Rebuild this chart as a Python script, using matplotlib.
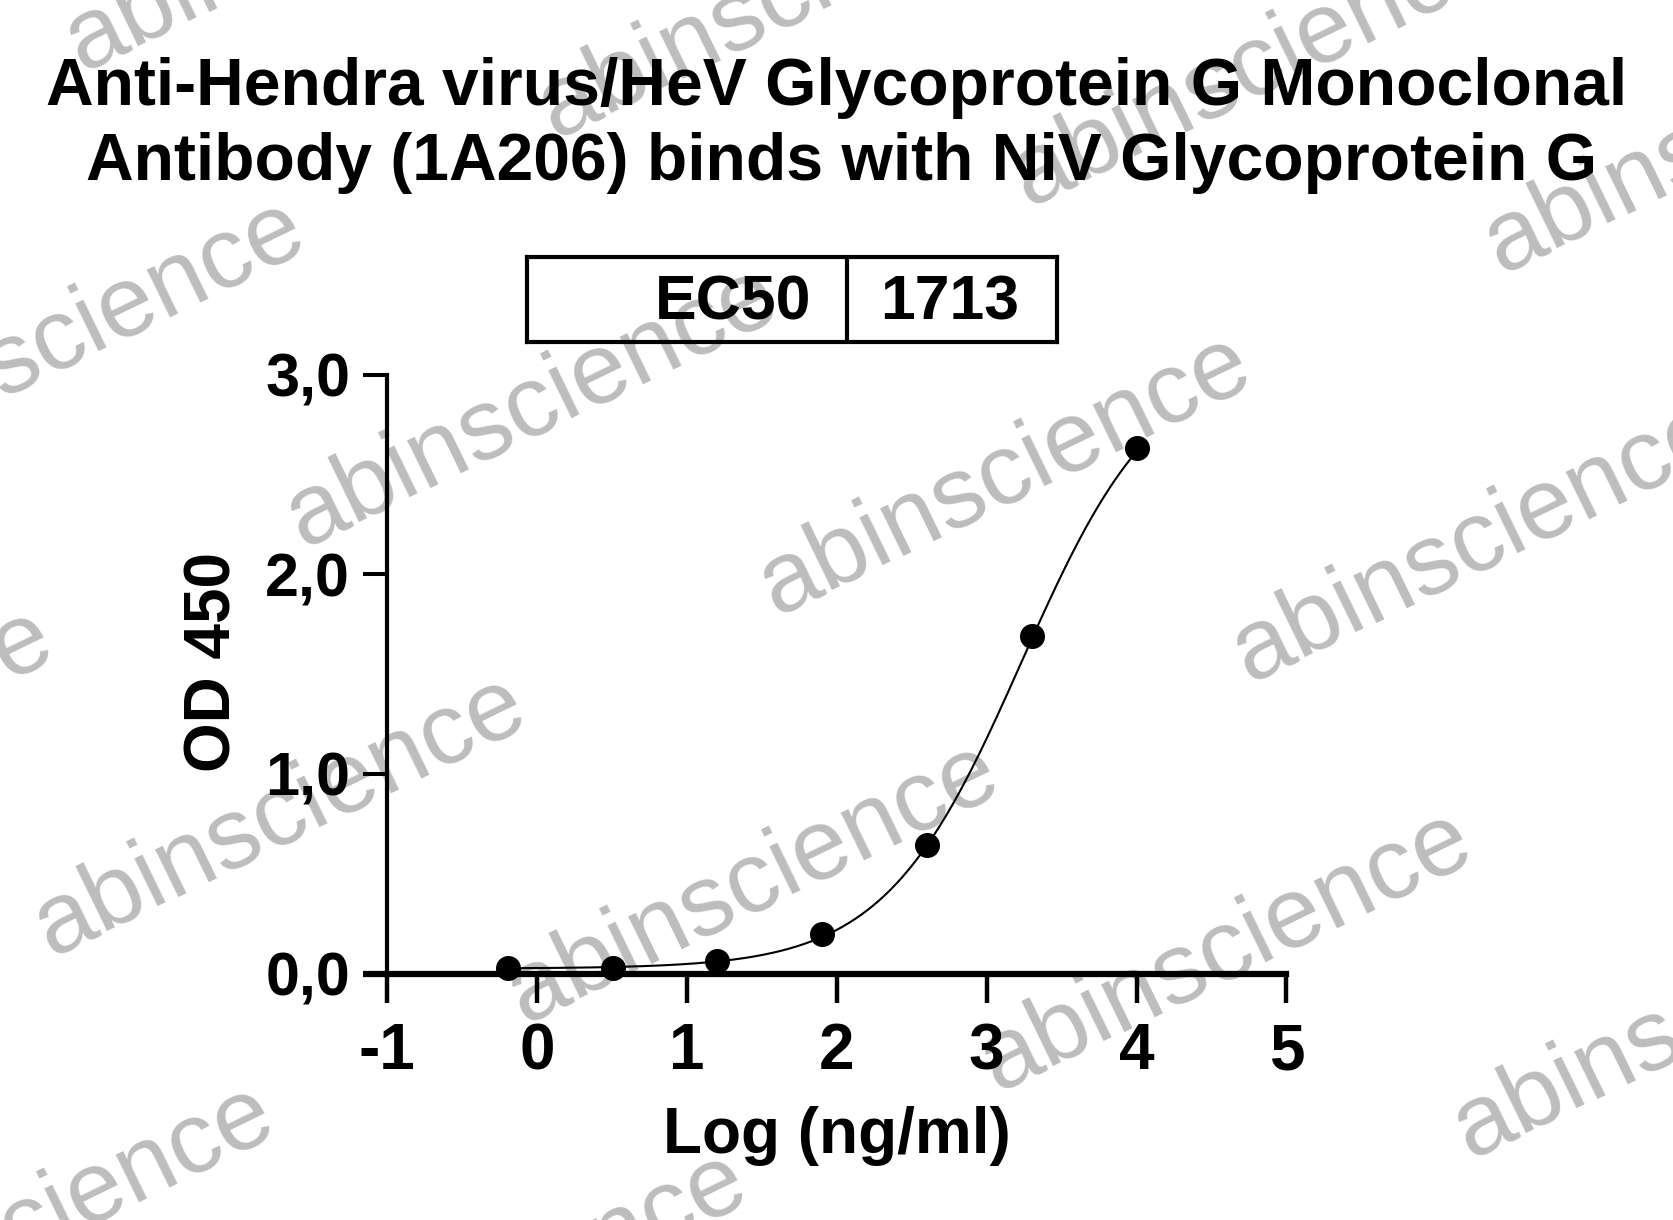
"""ELISA binding curve: Anti-Hendra virus G mAb (1A206) vs NiV Glycoprotein G."""

import numpy as np
import matplotlib

matplotlib.use("Agg")

import matplotlib.pyplot as plt

# measured points, log10 concentration (ng/ml) vs OD 450
log_conc = [-0.19, 0.51, 1.20, 1.90, 2.60, 3.30, 4.00]
od450 = [0.027, 0.027, 0.064, 0.198, 0.642, 1.690, 2.631]

# 4PL fit
ec50 = 1713
fit_bottom = 0.025
fit_top = 3.10
fit_hill = 0.95

x_ticks = [-1, 0, 1, 2, 3, 4, 5]
y_ticks = [0.0, 1.0, 2.0, 3.0]
y_tick_labels = ["0,0", "1,0", "2,0", "3,0"]

title_lines = [
    "Anti-Hendra virus/HeV Glycoprotein G Monoclonal",
    "Antibody (1A206) binds with NiV Glycoprotein G",
]
watermark = "abinscience"

plt.rcParams["font.family"] = ["Liberation Sans", "DejaVu Sans"]
plt.rcParams["font.weight"] = "bold"
plt.rcParams["axes.unicode_minus"] = False

fig = plt.figure(figsize=(16.74, 12.20), dpi=100)
ax = fig.add_axes([0.2312, 0.2020, 0.5373, 0.4909])
ax.patch.set_alpha(0)

xs = np.linspace(log_conc[0], log_conc[-1], 400)
fit = fit_bottom + (fit_top - fit_bottom) / (
    1 + 10 ** ((np.log10(ec50) - xs) * fit_hill)
)
ax.plot(xs, fit, color="black", lw=1.5, zorder=3, clip_on=False)
ax.plot(log_conc, od450, "o", color="black", ms=17, zorder=4, clip_on=False)

ax.set_xlim(-1, 5)
ax.set_ylim(0, 3)
ax.set_xticks(x_ticks)
ax.set_xticklabels([str(t) for t in x_ticks])
ax.set_yticks(y_ticks)
ax.set_yticklabels(y_tick_labels)

for side in ("top", "right"):
    ax.spines[side].set_visible(False)
ax.spines["left"].set_linewidth(3)
ax.spines["bottom"].set_linewidth(4.5)

ax.tick_params(axis="x", length=21, width=3.2, pad=14, labelsize=46)
ax.tick_params(axis="y", length=17.5, width=2.9, pad=9, labelsize=44)
# the zero tick continues the thick x axis line
ax.yaxis.get_major_ticks()[0].tick1line.set_markeredgewidth(4.5)

ax.set_xlabel("Log (ng/ml)", fontsize=46, fontweight="bold")
ax.xaxis.set_label_coords(0.5, -0.221)
ax.set_ylabel("OD 450", fontsize=46, fontweight="bold")
ax.yaxis.set_label_coords(-0.160, 0.52)

# title, two centred lines
fig.text(0.5, 1 - 105 / 1220, title_lines[0], ha="center", va="baseline",
         fontsize=47.5, fontweight="bold")
fig.text(0.503, 1 - 180 / 1220, title_lines[1], ha="center", va="baseline",
         fontsize=47.5, fontweight="bold")

# EC50 table
tab = fig.add_axes([0.3148, 0.7197, 0.3166, 0.0697])
tab.patch.set_alpha(0)
tab.set_xlim(0, 1)
tab.set_ylim(0, 1)
tab.set_xticks([])
tab.set_yticks([])
for sp in tab.spines.values():
    sp.set_linewidth(3)
tab.axvline(0.604, color="black", lw=3)
tab.text(0.536, 0.26, "EC50", ha="right", va="baseline", fontsize=45,
         fontweight="bold")
tab.text(0.798, 0.26, str(ec50), ha="center", va="baseline", fontsize=45,
         fontweight="bold")

# repeating watermark, behind the chart
for j in range(-1, 3):
    for i in range(-3, 3):
        wx = 942 + i * 443 - j * 236
        wy = 445 + i * 63 + j * 383
        if wx < -350 or wx > 1900:
            continue
        fig.text(wx / 1568, 1 - wy / 1143, watermark, rotation=26,
                 rotation_mode="anchor", ha="center", va="center",
                 fontsize=73, fontweight="normal", color="#bdbdbd", zorder=-1)

fig.savefig("out.png", dpi=100)
plt.close(fig)
